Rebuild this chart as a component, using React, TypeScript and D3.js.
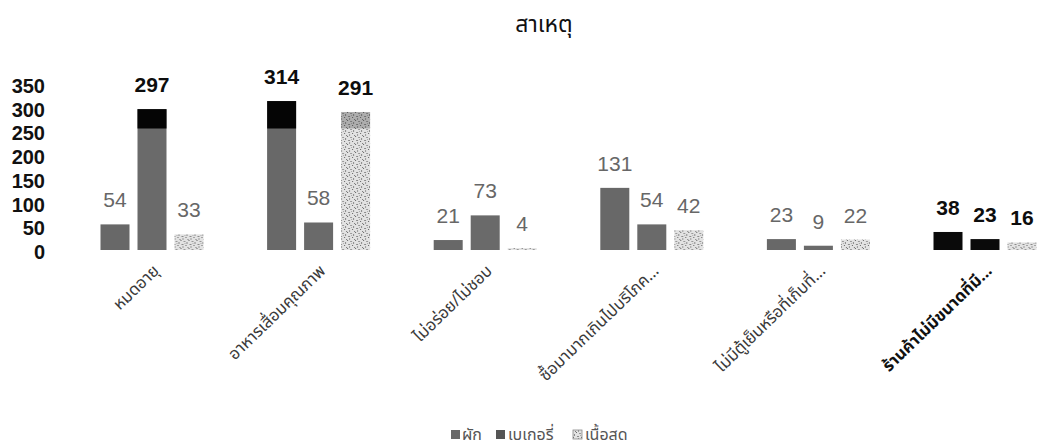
import React from "react";
import * as d3 from "d3";

const categories = [
  "หมดอายุ",
  "อาหารเสื่อมคุณภาพ",
  "ไม่อร่อย/ไม่ชอบ",
  "ซื้อมามากเกินไปบริโภค...",
  "ไม่มีตู้เย็นหรือที่เก็บที่...",
  "ร้านค้าไม่มีขนาดที่มี...",
];
const seriesNames = ["ผัก", "เบเกอรี่", "เนื้อสด"];
const vegetable = [54, 314, 21, 131, 23, 38];
const bakery = [297, 58, 73, 54, 9, 23];
const meat = [33, 291, 4, 42, 22, 16];
const yTicks = [0, 50, 100, 150, 200, 250, 300, 350];
const title = "สาเหตุ";

const W = 1038;
const H = 448;
const FONT = "'Liberation Sans', Arial, sans-serif";
const THAI = "'Noto Sans Thai', 'Leelawadee UI', Tahoma, 'DejaVu Sans', sans-serif";

export default function App() {
  const values = [vegetable, bakery, meat];
  const x0 = d3.scaleBand<string>().domain(categories).range([68.7, 1068.3]).padding(0);
  const x1 = d3.scaleBand<string>().domain(seriesNames).range([0, 103]).paddingInner(8 / 37).paddingOuter(0);
  const y = d3.scaleLinear().domain([0, 350]).range([250, 84]);
  const darkCat = categories.length - 1;

  const fills = ["#686868", "#6a6a6a", "url(#speckle)"];

  return (
    <svg width={W} height={H} style={{ position: "absolute", left: 0, top: 0, background: "#fff" }}>
      <defs>
        <pattern id="speckle" width="8" height="8" patternUnits="userSpaceOnUse">
          <rect width="8" height="8" fill="#e2e2e2" />
          <rect x="0" y="0" width="1" height="1" fill="#666" />
          <rect x="3" y="1" width="2" height="1" fill="#999" />
          <rect x="6" y="2" width="1" height="2" fill="#888" />
          <rect x="1" y="4" width="2" height="1" fill="#8a8a8a" />
          <rect x="5" y="5" width="1" height="1" fill="#666" />
          <rect x="2" y="6" width="1" height="2" fill="#999" />
          <rect x="7" y="7" width="1" height="1" fill="#777" />
          <rect x="4" y="3" width="1" height="1" fill="#aaa" />
        </pattern>
        <clipPath id="topDark">
          <rect x="0" y="0" width={W} height={y(256)} />
        </clipPath>
      </defs>

      <text x={544} y={32} textAnchor="middle" fontFamily={THAI} fontSize={23} fill="#111">
        {title}
      </text>

      {yTicks.map((t) => (
        <text
          key={t}
          x={45}
          y={y(t) + 2}
          dy="0.35em"
          textAnchor="end"
          fontFamily={FONT}
          fontWeight="bold"
          fontSize={20}
          fill="#111"
        >
          {t}
        </text>
      ))}

      {categories.map((c, ci) => {
        const gx = (x0(c) as number) + x0.bandwidth() / 2 - 51.5;
        return (
          <g key={c} transform={`translate(${gx},0)`}>
            {seriesNames.map((s, si) => {
              const v = values[si][ci];
              const bx = x1(s) as number;
              const top = y(v);
              const dark = ci === darkCat;
              const fill = dark ? (si === 2 ? "url(#speckle)" : "#0a0a0a") : fills[si];
              const labelDark = dark || v >= 250;
              return (
                <g key={s}>
                  <rect x={bx} y={top} width={x1.bandwidth()} height={y(0) - top} fill={fill} />
                  {v > 256 && (
                    <rect
                      x={bx}
                      y={top}
                      width={x1.bandwidth()}
                      height={y(0) - top}
                      fill={si === 2 ? "#333" : "#050505"}
                      opacity={si === 2 ? 0.3 : 1}
                      clipPath="url(#topDark)"
                    />
                  )}
                  <text
                    x={bx + x1.bandwidth() / 2}
                    y={top - 17}
                    textAnchor="middle"
                    fontFamily={FONT}
                    fontWeight={labelDark ? "bold" : "normal"}
                    fontSize={21}
                    fill={labelDark ? "#0d0d0d" : "#676767"}
                  >
                    {v}
                  </text>
                </g>
              );
            })}
          </g>
        );
      })}

      {categories.map((c, ci) => {
        const cx = (x0(c) as number) + x0.bandwidth() / 2 + 8;
        return (
          <text
            key={c}
            transform={`translate(${cx},272) rotate(-44)`}
            textAnchor="end"
            fontFamily={THAI}
            fontSize={16.5}
            fontWeight={ci === darkCat ? "bold" : "normal"}
            fill={ci === darkCat ? "#111" : "#3a3a3a"}
          >
            {c}
          </text>
        );
      })}

      <g fontFamily={THAI} fontSize={16} fill="#555">
        <rect x={451} y={430} width={9} height={9} fill="#686868" />
        <text x={462} y={440}>{seriesNames[0]}</text>
        <rect x={496} y={430} width={9} height={9} fill="#555" />
        <text x={508} y={440}>{seriesNames[1]}</text>
        <rect x={573} y={430} width={9} height={9} fill="url(#speckle)" stroke="#888" strokeWidth={0.8} />
        <text x={585} y={440}>{seriesNames[2]}</text>
      </g>
    </svg>
  );
}
